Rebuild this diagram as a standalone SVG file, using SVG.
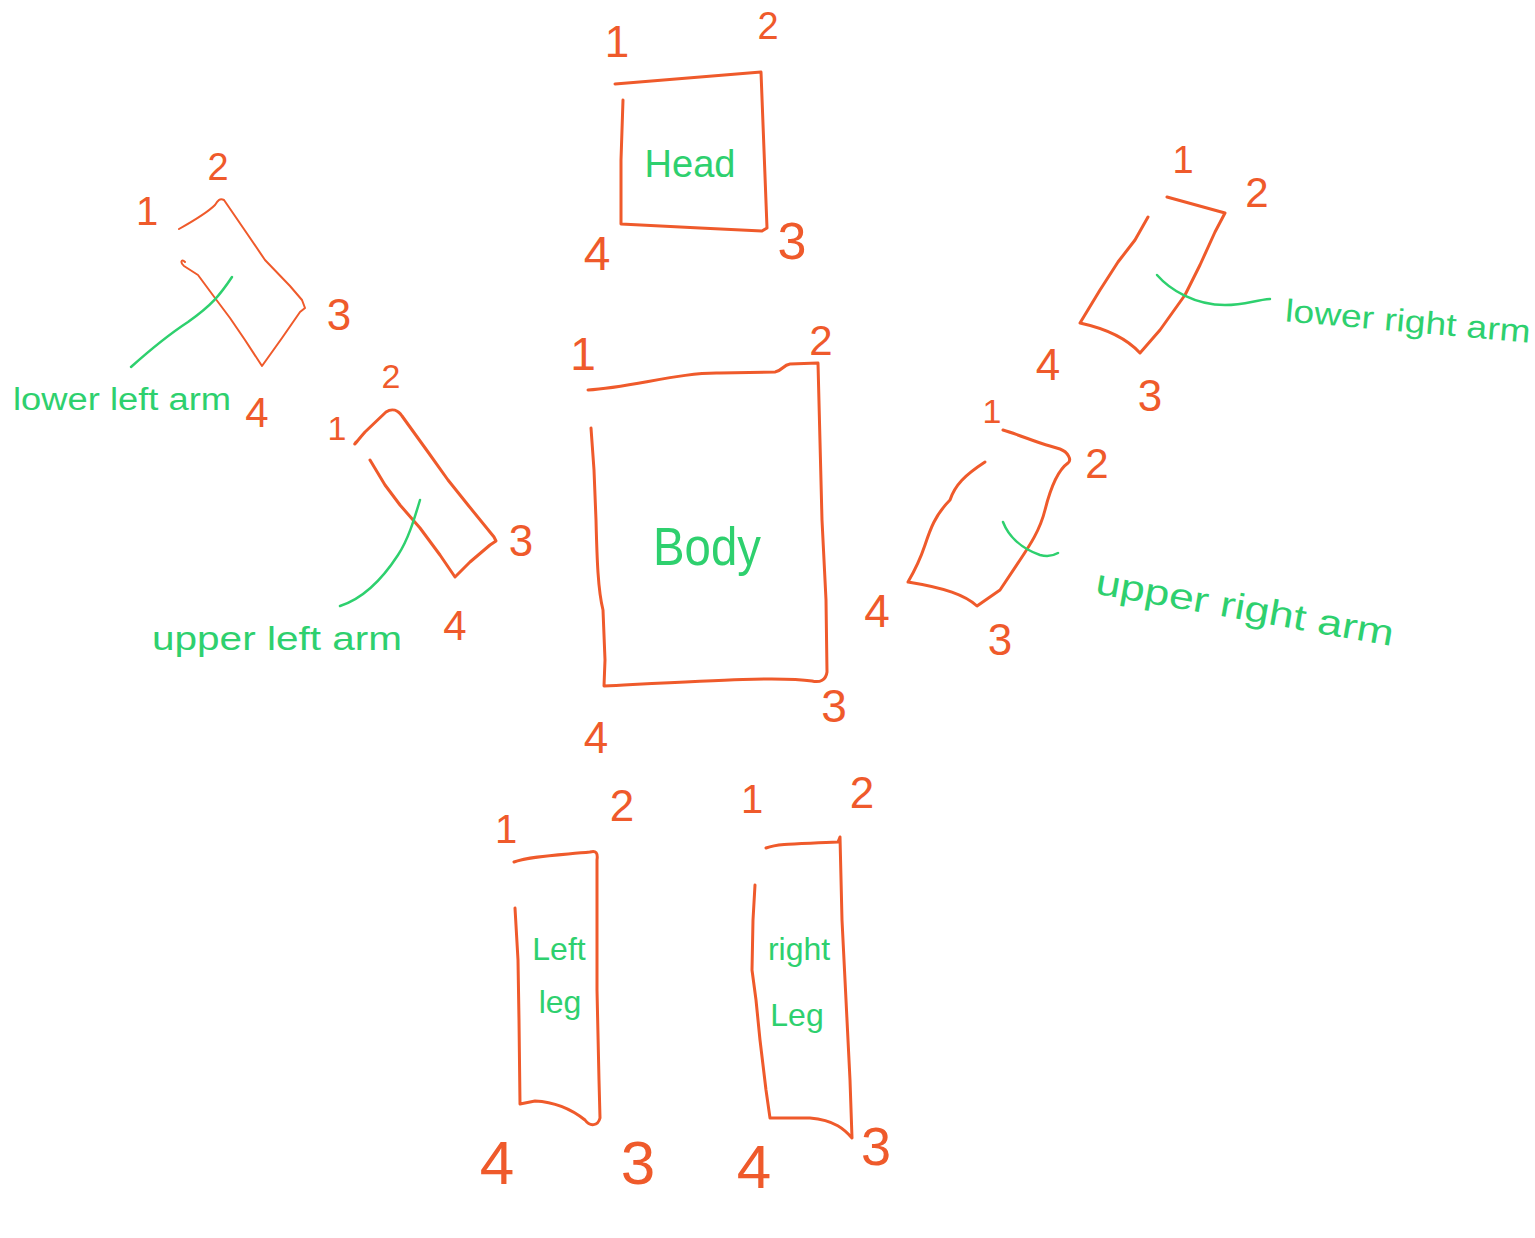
<svg xmlns="http://www.w3.org/2000/svg" width="1535" height="1238" viewBox="0 0 1535 1238">
<style>
.o{fill:none;stroke:#EF5A2B;stroke-width:3;stroke-linecap:round;stroke-linejoin:round}
.ot{fill:none;stroke:#EF5A2B;stroke-width:2;stroke-linecap:round;stroke-linejoin:round}
.g{fill:none;stroke:#2ED06E;stroke-width:2.5;stroke-linecap:round;stroke-linejoin:round}
.n{fill:#EF5A2B;font-family:"Liberation Sans",Arial,sans-serif;text-anchor:middle}
.t{fill:#2ED06E;font-family:"Liberation Sans",Arial,sans-serif;text-anchor:middle}
</style>
<rect width="1535" height="1238" fill="#ffffff"/>

<g id="head">
<path class="o" d="M615,84 L761,72 L764,150 L767,228 L762,231 L700,228 L621,224 L621,160 L623,100"/>
<text class="t" x="690" y="177" font-size="38">Head</text>
<text class="n" x="617" y="57" font-size="44">1</text>
<text class="n" x="768" y="39" font-size="38">2</text>
<text class="n" x="792" y="259" font-size="52">3</text>
<text class="n" x="597" y="270" font-size="48">4</text>
</g>

<g id="body">
<path class="o" d="M588,390 C630,388 680,372 720,373 L775,372 C782,371 783,365 790,364 L818,363 L822,520 L826,600 L827,672 C826,680 820,683 812,681 C780,676 700,681 604,686 L605,660 L603,610 C598,590 597,560 596,520 L594,470 L591,428"/>
<text class="t" x="707" y="565" font-size="54" textLength="108" lengthAdjust="spacingAndGlyphs">Body</text>
<text class="n" x="583" y="370" font-size="46">1</text>
<text class="n" x="821" y="355" font-size="42">2</text>
<text class="n" x="834" y="722" font-size="46">3</text>
<text class="n" x="596" y="753" font-size="44">4</text>
</g>

<g id="lower-left-arm">
<path class="ot" d="M179,229 C195,220 208,212 215,205 C218,200 220,198 224,200 L248,235 L265,260 L290,286 L302,300 L305,308 L300,312 L282,338 L262,366 L245,340 L230,318 L215,298 L198,275 L184,266 C180,263 181,258 185,262"/>
<path class="g" d="M232,277 C220,295 212,305 188,322 C165,337 150,350 131,367"/>
<text class="t" x="122" y="410" font-size="31" textLength="218" lengthAdjust="spacingAndGlyphs">lower left arm</text>
<text class="n" x="147" y="225" font-size="40">1</text>
<text class="n" x="218" y="180" font-size="38">2</text>
<text class="n" x="339" y="330" font-size="44">3</text>
<text class="n" x="257" y="427" font-size="42">4</text>
</g>

<g id="upper-left-arm">
<path class="o" d="M356,442 C352,448 358,440 365,432 L386,412 C392,408 398,410 402,416 L428,452 L448,480 L468,505 L494,537 L496,541 L490,545 L470,562 L455,577 L440,555 L420,528 L400,505 L385,485 L370,460"/>
<path class="g" d="M420,500 C414,520 408,540 398,555 C385,575 365,598 340,606"/>
<text class="t" x="277" y="650" font-size="34" textLength="250" lengthAdjust="spacingAndGlyphs">upper left arm</text>
<text class="n" x="337" y="440" font-size="34">1</text>
<text class="n" x="391" y="388" font-size="34">2</text>
<text class="n" x="521" y="556" font-size="44">3</text>
<text class="n" x="455" y="640" font-size="42">4</text>
</g>

<g id="lower-right-arm">
<path class="o" d="M1167,197 L1225,213 L1215,232 L1200,265 L1185,295 L1160,330 L1140,353 C1130,342 1112,330 1080,323 L1100,290 L1118,262 L1135,240 L1148,217"/>
<path class="g" d="M1157,275 C1170,290 1195,305 1225,305 C1245,305 1255,300 1270,299"/>
<text class="t" x="1408" y="332" font-size="32" textLength="246" lengthAdjust="spacingAndGlyphs" transform="rotate(5 1408 322)">lower right arm</text>
<text class="n" x="1183" y="173" font-size="38">1</text>
<text class="n" x="1257" y="207" font-size="42">2</text>
<text class="n" x="1150" y="411" font-size="44">3</text>
<text class="n" x="1048" y="380" font-size="44">4</text>
</g>

<g id="upper-right-arm">
<path class="o" d="M1003,430 C1020,435 1035,442 1050,446 L1060,449 C1068,452 1072,460 1068,463 C1058,470 1050,490 1045,510 C1040,530 1030,545 1020,560 L1000,590 L977,606 C965,595 945,588 908,582 C915,570 920,560 925,545 C930,530 935,515 950,500 C955,485 965,475 985,462"/>
<path class="g" d="M1003,522 C1008,535 1020,548 1040,555 C1048,557 1053,556 1058,553"/>
<text class="t" x="1245" y="620" font-size="36" textLength="302" lengthAdjust="spacingAndGlyphs" transform="rotate(10 1245 608)">upper right arm</text>
<text class="n" x="992" y="423" font-size="34">1</text>
<text class="n" x="1097" y="478" font-size="42">2</text>
<text class="n" x="1000" y="655" font-size="44">3</text>
<text class="n" x="877" y="627" font-size="46">4</text>
</g>

<g id="left-leg">
<path class="o" d="M514,862 C530,856 560,855 590,852 C596,850 598,853 597,860 L597,990 L599,1080 L600,1118 C598,1126 590,1127 585,1120 C570,1108 555,1102 535,1101 L520,1104 L519,1020 L518,960 L515,908"/>
<text class="t" x="559" y="960" font-size="32">Left</text>
<text class="t" x="560" y="1013" font-size="32">leg</text>
<text class="n" x="506" y="843" font-size="40">1</text>
<text class="n" x="622" y="821" font-size="44">2</text>
<text class="n" x="638" y="1184" font-size="62">3</text>
<text class="n" x="497" y="1184" font-size="62">4</text>
</g>

<g id="right-leg">
<path class="o" d="M766,848 C780,843 800,844 838,842 L840,837 L842,920 L846,1000 L850,1080 L852,1138 C845,1130 835,1120 810,1118 L770,1118 L766,1090 L760,1040 L756,1000 L752,970 L753,920 L755,885"/>
<text class="t" x="799" y="960" font-size="32">right</text>
<text class="t" x="797" y="1026" font-size="32">Leg</text>
<text class="n" x="752" y="813" font-size="40">1</text>
<text class="n" x="862" y="808" font-size="44">2</text>
<text class="n" x="876" y="1165" font-size="54">3</text>
<text class="n" x="754" y="1188" font-size="62">4</text>
</g>
</svg>
